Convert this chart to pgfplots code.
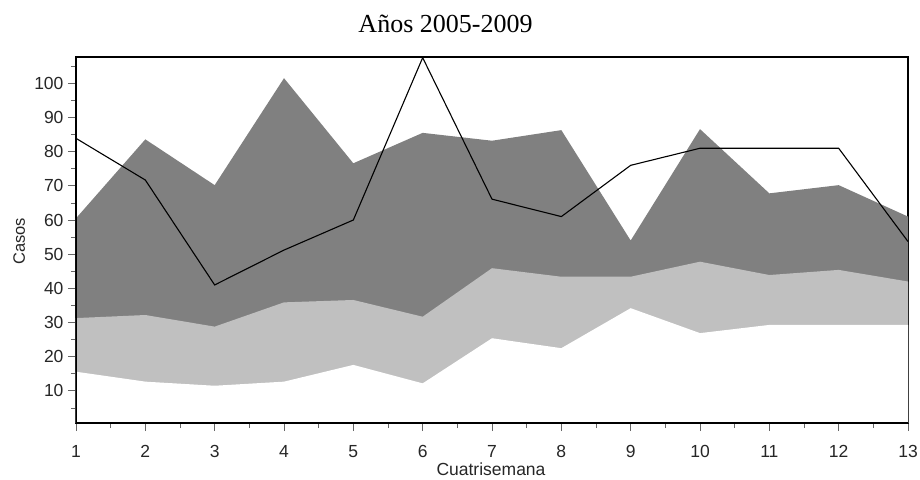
\documentclass[border=0pt]{standalone}
\usepackage{pgfplots}
\pgfplotsset{compat=1.18}
\usepackage{fontspec}
\setmainfont{Liberation Serif}
\newfontfamily\arial{Liberation Sans}
\definecolor{darkg}{HTML}{808080}
\definecolor{lightg}{HTML}{C0C0C0}
\begin{document}
\begin{tikzpicture}
\path[use as bounding box] (-76pt,-56pt) rectangle (844pt,423pt);
\begin{axis}[
  at={(0,0)}, anchor=south west,
  scale only axis, width=832pt, height=366pt,
  xmin=1, xmax=13, ymin=0.6, ymax=107.7,
  xtick={1,...,13}, ytick={10,20,...,100},
  minor xtick={1.5,2.5,...,12.5},
  minor ytick={5,15,...,105},
  xtick pos=bottom, ytick pos=left,
  tick align=outside,
  major tick length=8pt, minor tick length=5pt,
  tick style={line width=0.8pt, color=black!60},
  axis line style={line width=1.2pt},
  /pgf/number format/assume math mode=true,
  ticklabel style={font=\arial\fontsize{17.5}{17.5}\selectfont, text=black!85},
  yticklabel style={xshift=-1pt},
  xticklabel style={yshift=-11pt},
  clip=true,
]
\addplot[fill=darkg, draw=none] coordinates {
(1,60.5) (2,83.6) (3,70.2) (4,101.5) (5,76.6) (6,85.5) (7,83.2) (8,86.3) (9,54) (10,86.6) (11,67.8) (12,70.2) (13,61)
} \closedcycle;
\addplot[fill=lightg, draw=none] coordinates {
(1,31.3) (2,32.2) (3,28.8) (4,35.9) (5,36.6) (6,31.7) (7,45.9) (8,43.4) (9,43.4) (10,47.8) (11,43.9) (12,45.4) (13,42)
} \closedcycle;
\addplot[fill=white, draw=none] coordinates {
(1,15.6) (2,12.7) (3,11.5) (4,12.7) (5,17.6) (6,12.2) (7,25.4) (8,22.5) (9,34.2) (10,26.9) (11,29.3) (12,29.3) (13,29.3)
} \closedcycle;
\addplot[black, line width=1.1pt, mark=none] coordinates {
(1,83.9) (2,71.7) (3,41) (4,51.2) (5,60) (6,107.5) (7,66.1) (8,61) (9,76) (10,81) (11,81) (12,81) (13,53.7)
};
\draw[line width=2.8pt, black] (rel axis cs:0,1) -- (rel axis cs:0,0) -- (rel axis cs:1,0);
\end{axis}
\node[anchor=base, font=\fontsize{26}{26}\selectfont] at (369.5pt,390pt) {Años 2005-2009};
\node[anchor=base, font=\arial\fontsize{17.5}{17.5}\selectfont, text=black!85] at (415pt,-52pt) {Cuatrisemana};
\node[anchor=base, rotate=90, font=\arial\fontsize{16.5}{16.5}\selectfont, text=black!85] at (-51pt,181.5pt) {Casos};
\end{tikzpicture}
\end{document}
